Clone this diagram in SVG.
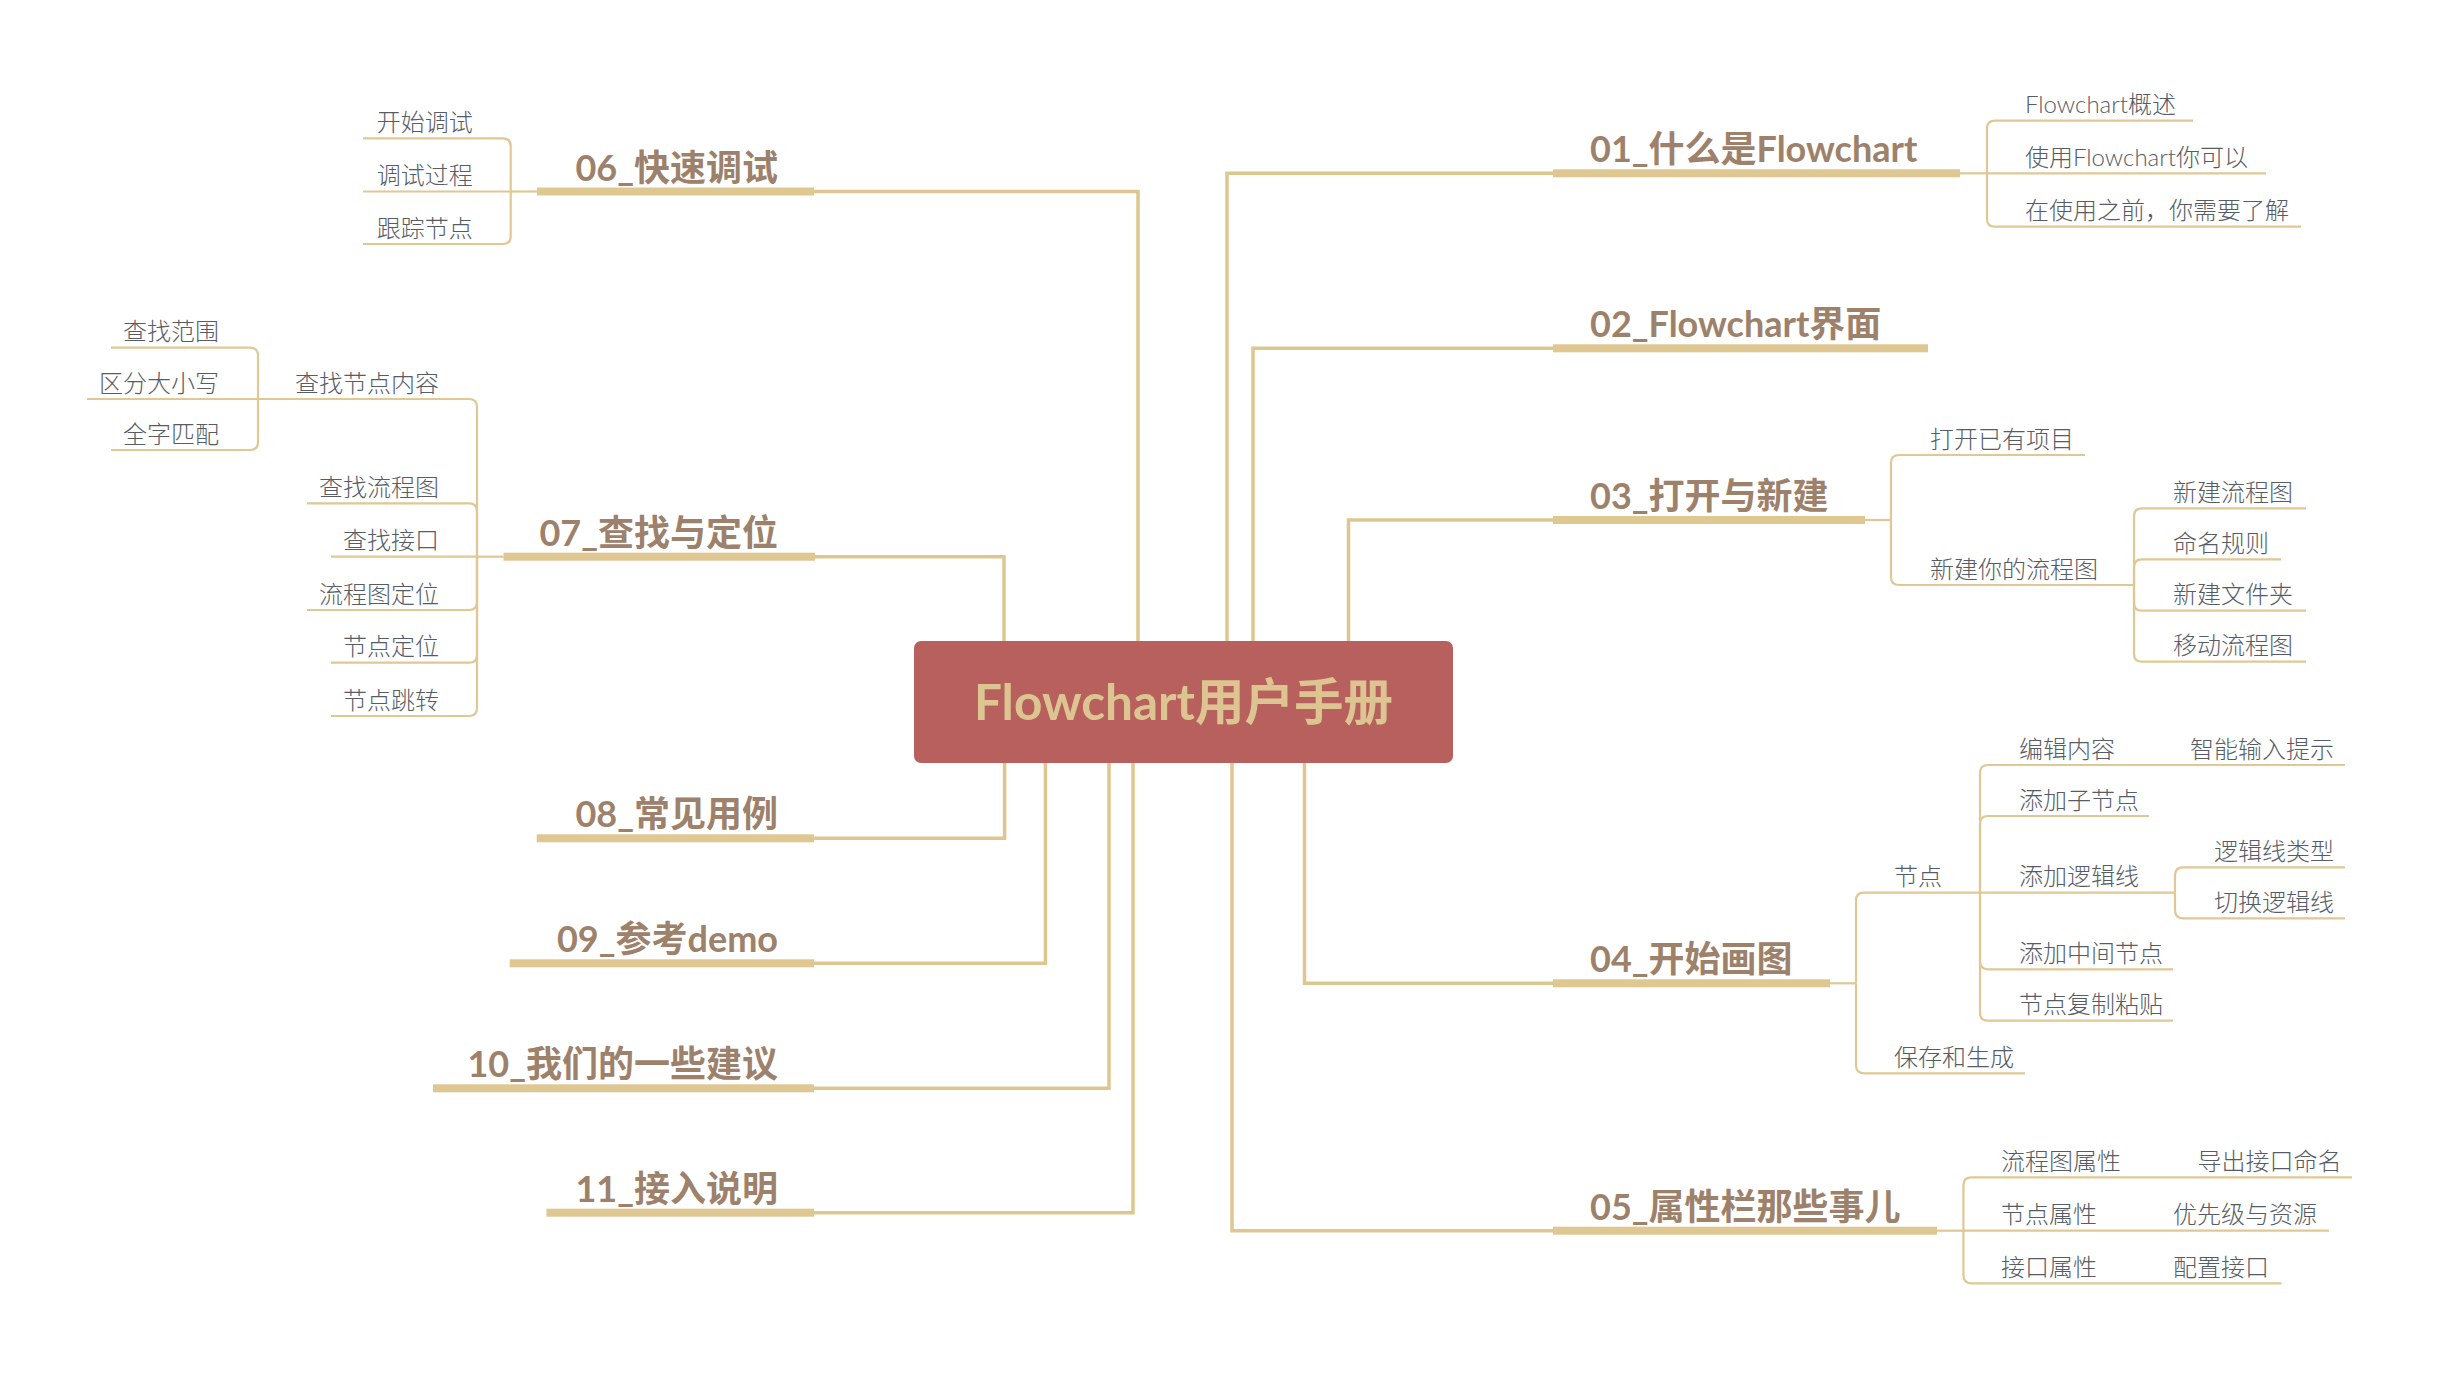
<svg xmlns="http://www.w3.org/2000/svg" width="2441" height="1373" viewBox="0 0 2441 1373">
<style>
.main{fill:none;stroke:#dec690;stroke-width:3.5}
.sub{fill:none;stroke:#dfc894;stroke-width:2.2}
.bar{fill:#dfc792}
.t1{font-family:"Lato","Noto Sans CJK SC",sans-serif;font-weight:700;font-size:36px;fill:#9d816b}
.t2{font-family:"Lato","Noto Sans CJK SC",sans-serif;font-weight:300;font-size:24px;fill:#565c65}
.l{text-anchor:end}
.root{font-family:"Lato","Noto Sans CJK SC",sans-serif;font-weight:700;font-size:49.5px;fill:#dcc591;text-anchor:middle}
</style>
<rect width="2441" height="1373" fill="#ffffff"/>
<g id="connectors">
<path class="main" d="M814,191.5 H1138 V641"/>
<path class="main" d="M815,556.7 H1004 V641"/>
<path class="main" d="M814,838.3 H1004.6 V763"/>
<path class="main" d="M814,963.3 H1045.4 V763"/>
<path class="main" d="M814,1088.3 H1109 V763"/>
<path class="main" d="M814,1212.7 H1133 V763"/>
<path class="main" d="M1227,641 V173.3 H1553"/>
<path class="main" d="M1253,641 V348.3 H1553"/>
<path class="main" d="M1348.5,641 V520 H1553"/>
<path class="main" d="M1304.5,763 V983.3 H1553"/>
<path class="main" d="M1232,763 V1230.7 H1553"/>
<!-- 06 -->
<path class="sub" d="M537,191.5 H510.7"/>
<path class="sub" d="M510.7,191.5 V146.3 Q510.7,138.3 502.7,138.3 H363"/>
<path class="sub" d="M510.7,191.5 H363"/>
<path class="sub" d="M510.7,191.5 V236 Q510.7,244 502.7,244 H363"/>
<!-- 07 -->
<path class="sub" d="M503.5,556.7 H477"/>
<path class="sub" d="M477,556.7 V407 Q477,399 469,399 H258"/>
<path class="sub" d="M477,556.7 V511.3 Q477,503.3 469,503.3 H307"/>
<path class="sub" d="M477,556.7 H331"/>
<path class="sub" d="M477,556.7 V602 Q477,610 469,610 H307"/>
<path class="sub" d="M477,556.7 V654.7 Q477,662.7 469,662.7 H331"/>
<path class="sub" d="M477,556.7 V708 Q477,716 469,716 H331"/>
<path class="sub" d="M258,399 V355.7 Q258,347.7 250,347.7 H111"/>
<path class="sub" d="M258,399 H87"/>
<path class="sub" d="M258,399 V442 Q258,450 250,450 H111"/>
<!-- 01 -->
<path class="sub" d="M1960,173.3 H1987"/>
<path class="sub" d="M1987,173.3 V128.7 Q1987,120.7 1995,120.7 H2193"/>
<path class="sub" d="M1987,173.3 H2266"/>
<path class="sub" d="M1987,173.3 V218.7 Q1987,226.7 1995,226.7 H2301"/>
<!-- 03 -->
<path class="sub" d="M1865,520 H1891"/>
<path class="sub" d="M1891,520 V463 Q1891,455 1899,455 H2085"/>
<path class="sub" d="M1891,520 V577 Q1891,585 1899,585 H2134"/>
<path class="sub" d="M2134,585 V516.3 Q2134,508.3 2142,508.3 H2306"/>
<path class="sub" d="M2134,585 V567.3 Q2134,559.3 2142,559.3 H2281"/>
<path class="sub" d="M2134,585 V602.7 Q2134,610.7 2142,610.7 H2306"/>
<path class="sub" d="M2134,585 V653.7 Q2134,661.7 2142,661.7 H2306"/>
<!-- 04 -->
<path class="sub" d="M1830,983.3 H1856"/>
<path class="sub" d="M1856,983.3 V900.7 Q1856,892.7 1864,892.7 H1980"/>
<path class="sub" d="M1856,983.3 V1065.3 Q1856,1073.3 1864,1073.3 H2025"/>
<path class="sub" d="M1980,892.7 V773 Q1980,765 1988,765 H2345"/>
<path class="sub" d="M1980,892.7 V824 Q1980,816 1988,816 H2149"/>
<path class="sub" d="M1980,892.7 H2175"/>
<path class="sub" d="M1980,892.7 V961.3 Q1980,969.3 1988,969.3 H2173"/>
<path class="sub" d="M1980,892.7 V1012.7 Q1980,1020.7 1988,1020.7 H2173"/>
<path class="sub" d="M2175,892.7 V875.3 Q2175,867.3 2183,867.3 H2345"/>
<path class="sub" d="M2175,892.7 V910.3 Q2175,918.3 2183,918.3 H2345"/>
<!-- 05 -->
<path class="sub" d="M1937,1230.7 H1963.4"/>
<path class="sub" d="M1963.4,1230.7 V1185.3 Q1963.4,1177.3 1971.4,1177.3 H2352"/>
<path class="sub" d="M1963.4,1230.7 H2329"/>
<path class="sub" d="M1963.4,1230.7 V1275.3 Q1963.4,1283.3 1971.4,1283.3 H2281.5"/>
</g>
<g id="root">
<rect x="914" y="641" width="539" height="122" rx="7" fill="#b7605e"/>
<text class="root" x="1183.5" y="719.5">Flowchart用户手册</text>
</g>
<g id="n06"><rect class="bar" x="537" y="187.5" width="277" height="8"/><text class="t1 l" x="778" y="180.5">06_快速调试</text></g>
<g id="n06a"><text class="t2 l" x="472.7" y="131">开始调试</text></g>
<g id="n06b"><text class="t2 l" x="472.7" y="184">调试过程</text></g>
<g id="n06c"><text class="t2 l" x="472.7" y="236.5">跟踪节点</text></g>
<g id="n07"><rect class="bar" x="503.5" y="552.7" width="311.5" height="8"/><text class="t1 l" x="778" y="545.7">07_查找与定位</text></g>
<g id="n07a"><text class="t2 l" x="439" y="391.5">查找节点内容</text></g>
<g id="n07a1"><text class="t2 l" x="219" y="340.2">查找范围</text></g>
<g id="n07a2"><text class="t2 l" x="219" y="391.5">区分大小写</text></g>
<g id="n07a3"><text class="t2 l" x="219" y="442.5">全字匹配</text></g>
<g id="n07b"><text class="t2 l" x="439" y="495.8">查找流程图</text></g>
<g id="n07c"><text class="t2 l" x="439" y="549.2">查找接口</text></g>
<g id="n07d"><text class="t2 l" x="439" y="602.5">流程图定位</text></g>
<g id="n07e"><text class="t2 l" x="439" y="655.2">节点定位</text></g>
<g id="n07f"><text class="t2 l" x="439" y="708.5">节点跳转</text></g>
<g id="n08"><rect class="bar" x="536.7" y="834.3" width="277.3" height="8"/><text class="t1 l" x="778" y="827">08_常见用例</text></g>
<g id="n09"><rect class="bar" x="509.7" y="959.3" width="304.3" height="8"/><text class="t1 l" x="778" y="952">09_参考demo</text></g>
<g id="n10"><rect class="bar" x="433" y="1084.3" width="381" height="8"/><text class="t1 l" x="778" y="1077">10_我们的一些建议</text></g>
<g id="n11"><rect class="bar" x="546.4" y="1208.7" width="267.6" height="8"/><text class="t1 l" x="778" y="1201.7">11_接入说明</text></g>
<g id="n01"><rect class="bar" x="1553" y="169.3" width="407" height="8"/><text class="t1" x="1590" y="162">01_什么是Flowchart</text></g>
<g id="n01a"><text class="t2" x="2025" y="113">Flowchart概述</text></g>
<g id="n01b"><text class="t2" x="2025" y="166">使用Flowchart你可以</text></g>
<g id="n01c"><text class="t2" x="2025" y="219">在使用之前，你需要了解</text></g>
<g id="n02"><rect class="bar" x="1553" y="344.3" width="375" height="8"/><text class="t1" x="1590" y="337">02_Flowchart界面</text></g>
<g id="n03"><rect class="bar" x="1553" y="516" width="312" height="8"/><text class="t1" x="1590" y="509">03_打开与新建</text></g>
<g id="n03a"><text class="t2" x="1930" y="447.5">打开已有项目</text></g>
<g id="n03b"><text class="t2" x="1930" y="577.5">新建你的流程图</text></g>
<g id="n03b1"><text class="t2" x="2173" y="500.8">新建流程图</text></g>
<g id="n03b2"><text class="t2" x="2173" y="551.8">命名规则</text></g>
<g id="n03b3"><text class="t2" x="2173" y="603.2">新建文件夹</text></g>
<g id="n03b4"><text class="t2" x="2173" y="654.2">移动流程图</text></g>
<g id="n04"><rect class="bar" x="1553" y="979.3" width="277" height="8"/><text class="t1" x="1590" y="972">04_开始画图</text></g>
<g id="n04a"><text class="t2" x="1894" y="885.2">节点</text></g>
<g id="n04a1"><text class="t2" x="2019" y="757.5">编辑内容</text></g>
<g id="n04a1a"><text class="t2" x="2190" y="757.5">智能输入提示</text></g>
<g id="n04a2"><text class="t2" x="2019" y="808.5">添加子节点</text></g>
<g id="n04a3"><text class="t2" x="2019" y="885.2">添加逻辑线</text></g>
<g id="n04a3a"><text class="t2" x="2214" y="859.8">逻辑线类型</text></g>
<g id="n04a3b"><text class="t2" x="2214" y="910.8">切换逻辑线</text></g>
<g id="n04a4"><text class="t2" x="2019" y="961.8">添加中间节点</text></g>
<g id="n04a5"><text class="t2" x="2019" y="1013.2">节点复制粘贴</text></g>
<g id="n04b"><text class="t2" x="1894" y="1065.8">保存和生成</text></g>
<g id="n05"><rect class="bar" x="1553" y="1226.7" width="384" height="8"/><text class="t1" x="1590" y="1219.7">05_属性栏那些事儿</text></g>
<g id="n05a"><text class="t2" x="2001" y="1169.8">流程图属性</text></g>
<g id="n05a1"><text class="t2" x="2197.5" y="1169.8">导出接口命名</text></g>
<g id="n05b"><text class="t2" x="2001" y="1223.2">节点属性</text></g>
<g id="n05b1"><text class="t2" x="2173" y="1223.2">优先级与资源</text></g>
<g id="n05c"><text class="t2" x="2001" y="1275.8">接口属性</text></g>
<g id="n05c1"><text class="t2" x="2173" y="1275.8">配置接口</text></g>
</svg>
